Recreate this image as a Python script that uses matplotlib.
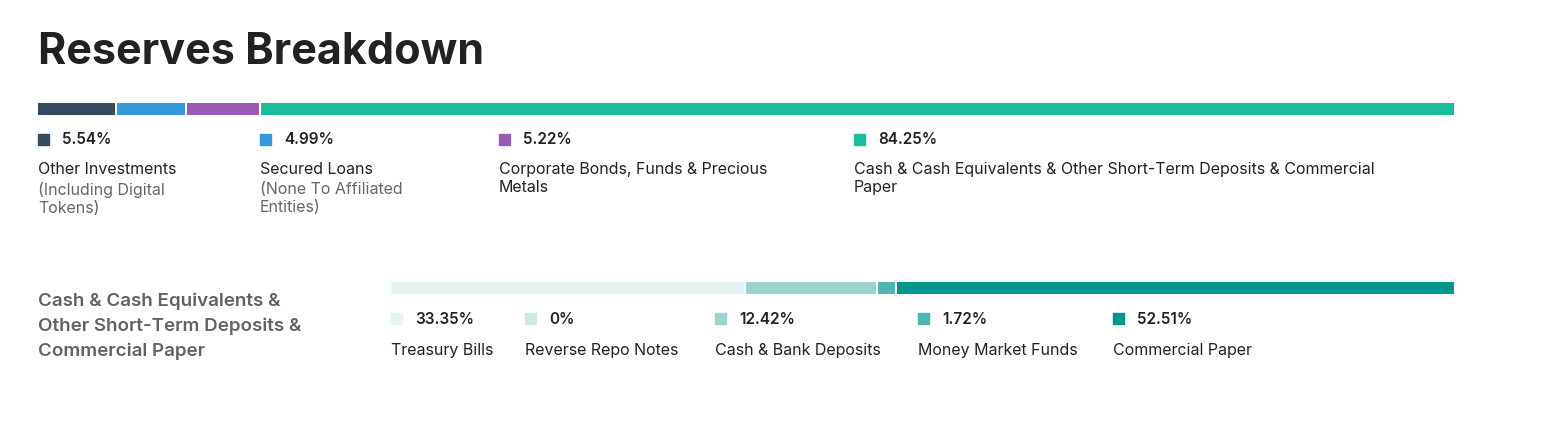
import matplotlib.pyplot as plt

plt.rcParams['font.family'] = ['Inter', 'DejaVu Sans']

# top breakdown
top_pcts = [5.54, 4.99, 5.22, 84.25]
top_names = ["Other Investments", "Secured Loans", "Corporate Bonds, Funds & Precious\nMetals",
             "Cash & Cash Equivalents & Other Short-Term Deposits & Commercial\nPaper"]
top_notes = ["(Including Digital\nTokens)", "(None To Affiliated\nEntities)", "", ""]
top_colors = ["#34495e", "#3498db", "#9b59b6", "#1abc9c"]
top_label_x = [38, 260, 499, 854]

# cash breakdown
sub_pcts = [33.35, 0, 12.42, 1.72, 52.51]
sub_names = ["Treasury Bills", "Reverse Repo Notes", "Cash & Bank Deposits", "Money Market Funds", "Commercial Paper"]
sub_colors = ["#e6f4f3", "#cce9e7", "#99d4d1", "#4db6b1", "#009690"]
sub_label_x = [391, 525, 715, 918, 1113]

W, H = 1553, 423
fig = plt.figure(figsize=(W / 100, H / 100), dpi=100)
ax = fig.add_axes([0, 0, 1, 1])
ax.set_xlim(0, W)
ax.set_ylim(H, 0)
ax.axis('off')


def stacked(pcts, colors, x0, x1, y, h):
    total = sum(pcts)
    scale = (x1 - x0) / total
    left = x0
    for p, c in zip(pcts, colors):
        w = p * scale
        if w > 0:
            ax.barh(y, max(w - 2, 0.5), left=left, height=h, color=c, align='edge')
        left += w


ax.text(38, 52, "Reserves Breakdown", fontsize=31, fontweight='bold', color='#222222', va='center')

stacked(top_pcts, top_colors, 38, 1456, 103, 12)
for p, n, note, c, x in zip(top_pcts, top_names, top_notes, top_colors, top_label_x):
    ax.add_patch(plt.Rectangle((x, 134), 11, 11, color=c))
    ax.text(x + 24, 140, f"{p:.2f}%", fontsize=11, fontweight='semibold', color='#222222', va='center')
    ax.text(x, 162, n, fontsize=11.5, color='#222222', va='top', linespacing=1.25)
    if note:
        ax.text(x, 182, note, fontsize=11.5, color='#666666', va='top', linespacing=1.25)

ax.text(38, 326, "Cash & Cash Equivalents &\nOther Short-Term Deposits &\nCommercial Paper",
        fontsize=13.5, fontweight='semibold', color='#5f6368', va='center', linespacing=1.55)

stacked(sub_pcts, sub_colors, 391, 1456, 282, 12)
for p, n, c, x in zip(sub_pcts, sub_names, sub_colors, sub_label_x):
    ax.add_patch(plt.Rectangle((x, 313), 11, 11, color=c))
    lbl = f"{p:g}%" if p == 0 else f"{p:.2f}%"
    ax.text(x + 24, 319, lbl, fontsize=11, fontweight='semibold', color='#222222', va='center')
    ax.text(x, 350, n, fontsize=11.5, color='#222222', va='center')

fig.savefig("out.png", dpi=100)
